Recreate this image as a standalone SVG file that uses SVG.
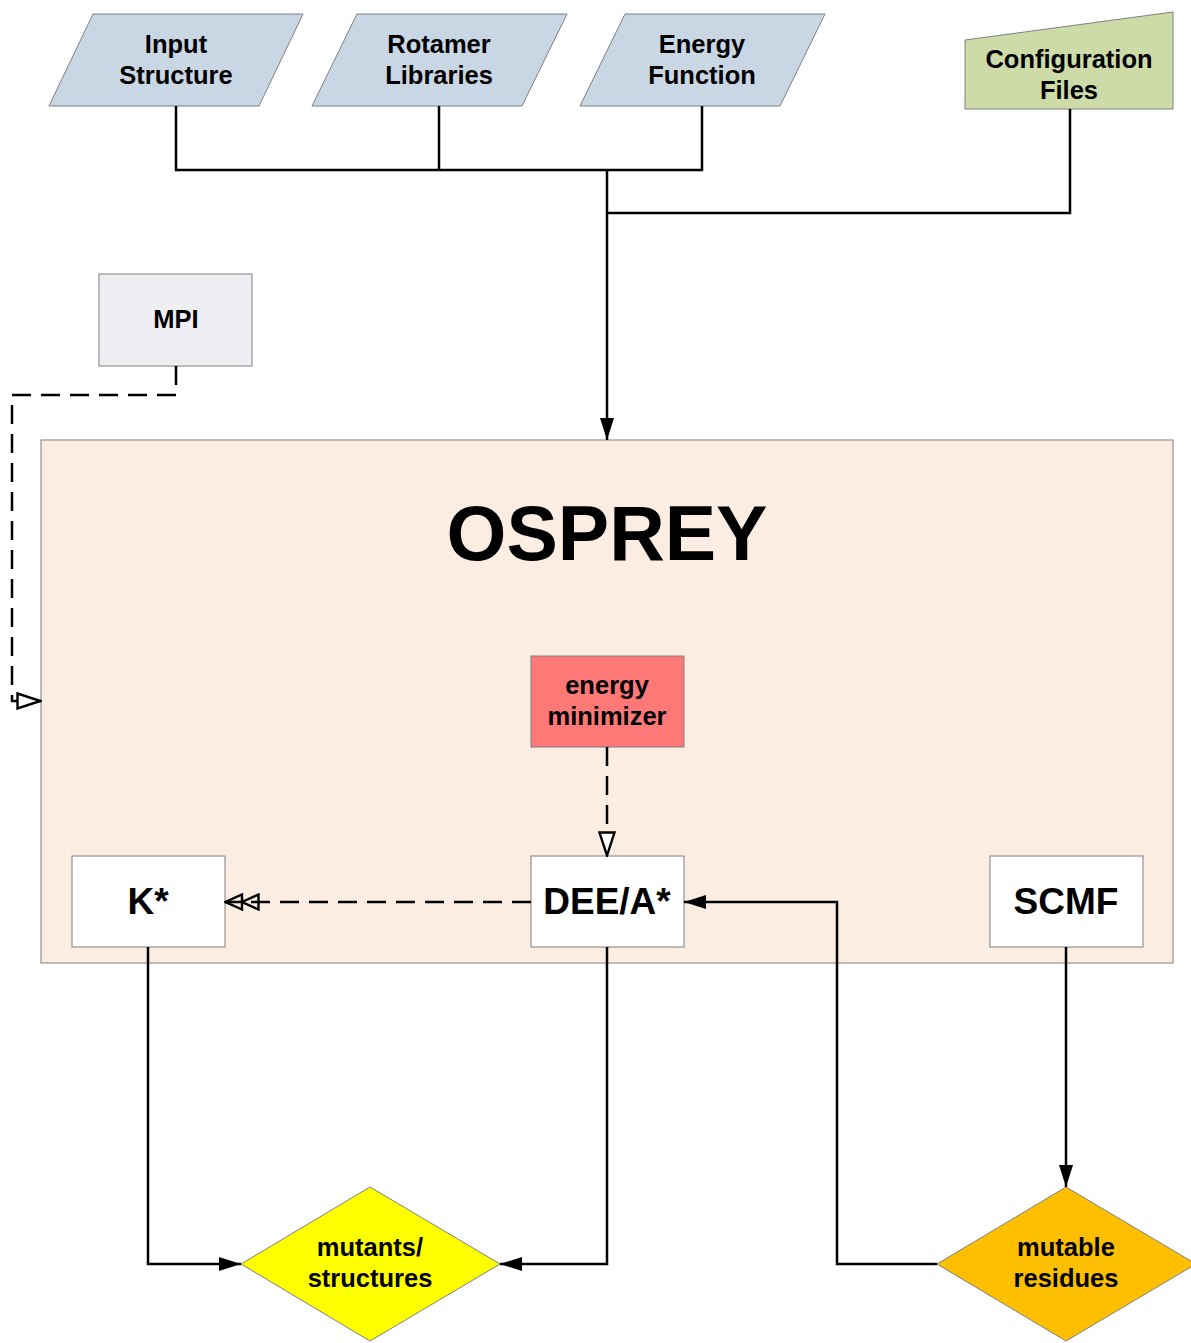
<svg xmlns="http://www.w3.org/2000/svg" width="1191" height="1343" viewBox="0 0 1191 1343">
<style>
  text { font-family: "Liberation Sans", Arial, sans-serif; font-weight: bold; text-anchor: middle; fill: #000; }
  .lbl { font-size: 25.5px; }
  .big { font-size: 37px; }
  .shape { stroke: #7f7f7f; stroke-width: 1; }
  .io { fill: #c9d7e5; }
  .line { fill: none; stroke: #000; stroke-width: 2.5; }
  .dash { fill: none; stroke: #000; stroke-width: 2.5; stroke-dasharray: 19 10; }
</style>
<defs>
  <marker id="filled" viewBox="0 0 22 14" refX="22" refY="7" markerWidth="22" markerHeight="14" markerUnits="userSpaceOnUse" orient="auto">
    <path d="M0,0 L22,7 L0,14 Z" fill="#000"/>
  </marker>
  <marker id="open" viewBox="0 0 26 18" refX="25" refY="9" markerWidth="26" markerHeight="18" markerUnits="userSpaceOnUse" orient="auto">
    <path d="M1.5,1.5 L24.5,9 L1.5,16.5 Z" fill="#fff" stroke="#000" stroke-width="2.4"/>
  </marker>
  <marker id="open2" viewBox="0 0 36 18" refX="35" refY="9" markerWidth="36" markerHeight="18" markerUnits="userSpaceOnUse" orient="auto">
    <path d="M1.5,1.5 L18,9 L1.5,16.5 Z M18,1.5 L34.5,9 L18,16.5 Z" fill="none" stroke="#000" stroke-width="2.4"/>
  </marker>
</defs>

<g id="osprey">
  <rect class="shape" x="41" y="440" width="1132" height="523" fill="#fcede3"/>
  <text x="607" y="560" style="font-size:77px">OSPREY</text>
</g>

<g id="input-structure">
  <polygon class="shape io" points="93,14 303,14 259,106 49,106"/>
  <text class="lbl" x="176" y="53">Input</text>
  <text class="lbl" x="176" y="84">Structure</text>
</g>
<g id="rotamer-libraries">
  <polygon class="shape io" points="357,14 567,14 522,106 312,106"/>
  <text class="lbl" x="439" y="53">Rotamer</text>
  <text class="lbl" x="439" y="84">Libraries</text>
</g>
<g id="energy-function">
  <polygon class="shape io" points="625,14 825,14 780,106 580,106"/>
  <text class="lbl" x="702" y="53">Energy</text>
  <text class="lbl" x="702" y="84">Function</text>
</g>
<g id="configuration-files">
  <polygon class="shape" points="965,40 1173,12 1173,109 965,109" fill="#cddba9"/>
  <text class="lbl" x="1069" y="68">Configuration</text>
  <text class="lbl" x="1069" y="99">Files</text>
</g>
<g id="mpi">
  <rect class="shape" x="99" y="274" width="153" height="92" fill="#efeef3"/>
  <text class="lbl" x="176" y="328">MPI</text>
</g>
<g id="energy-minimizer">
  <rect class="shape" x="531" y="656" width="153" height="91" fill="#ff7878"/>
  <text class="lbl" x="607" y="694">energy</text>
  <text class="lbl" x="607" y="725">minimizer</text>
</g>
<g id="kstar">
  <rect class="shape" x="72" y="856" width="153" height="91" fill="#fff"/>
  <text class="big" x="148" y="914">K*</text>
</g>
<g id="dee-astar">
  <rect class="shape" x="531" y="856" width="153" height="91" fill="#fff"/>
  <text class="big" x="607" y="914">DEE/A*</text>
</g>
<g id="scmf">
  <rect class="shape" x="990" y="856" width="153" height="91" fill="#fff"/>
  <text class="big" x="1066" y="914">SCMF</text>
</g>
<g id="mutants-structures">
  <polygon class="shape" points="370,1187 500,1264 370,1341 241,1264" fill="#ffff00"/>
  <text class="lbl" x="370" y="1256">mutants/</text>
  <text class="lbl" x="370" y="1287">structures</text>
</g>
<g id="mutable-residues">
  <polygon class="shape" points="1066,1187 1196,1264 1066,1341 937,1264" fill="#fdbf00"/>
  <text class="lbl" x="1066" y="1256">mutable</text>
  <text class="lbl" x="1066" y="1287">residues</text>
</g>

<g id="connectors">
  <polyline class="line" points="176,106 176,170 702,170 702,106"/>
  <line class="line" x1="439" y1="106" x2="439" y2="170"/>
  <polyline class="line" points="1070,109 1070,213 607,213"/>
  <line class="line" x1="607" y1="170" x2="607" y2="440" marker-end="url(#filled)"/>
  <polyline class="dash" points="176,366 176,395 12,395 12,701 41,701" marker-end="url(#open)"/>
  <line class="dash" x1="607" y1="747" x2="607" y2="856" marker-end="url(#open)"/>
  <line class="dash" x1="531" y1="902" x2="225" y2="902" marker-end="url(#open2)"/>
  <polyline class="line" points="937,1264 837,1264 837,902 684,902" marker-end="url(#filled)"/>
  <line class="line" x1="1066" y1="947" x2="1066" y2="1187" marker-end="url(#filled)"/>
  <polyline class="line" points="148,947 148,1264 241,1264" marker-end="url(#filled)"/>
  <polyline class="line" points="607,947 607,1264 500,1264" marker-end="url(#filled)"/>
</g>
</svg>
